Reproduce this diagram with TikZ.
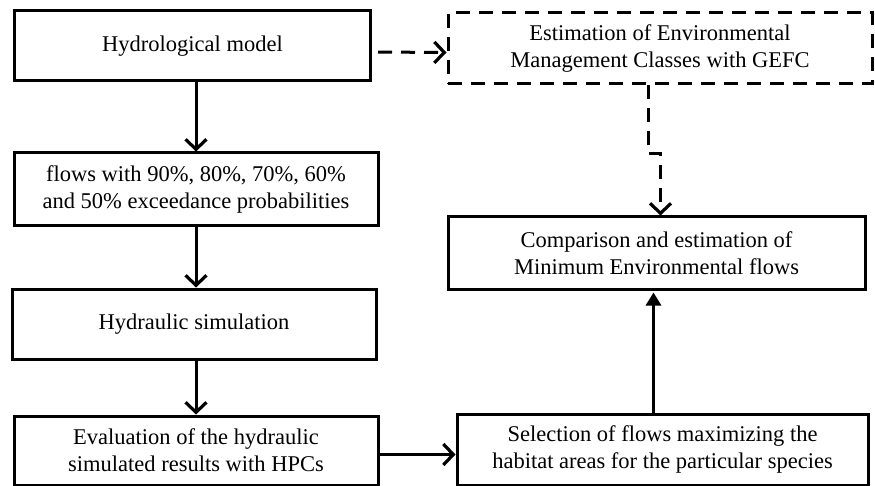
\documentclass[tikz,border=0pt]{standalone}
\usepackage{fontspec}
\setmainfont{Liberation Serif}
\usetikzlibrary{arrows.meta,calc}
\begin{document}
\begin{tikzpicture}[x=1pt,y=-1pt,
  box/.style={draw,line width=3pt,align=center,inner sep=0pt,font=\fontsize{22.5}{27}\selectfont},
  dbox/.style={box,dash pattern=on 14pt off 9pt},
  arr/.style={line width=3pt,-{Straight Barb[length=10pt,width=21pt,line width=3.2pt]}},
  tarr/.style={line width=3pt,-{Triangle[length=13pt,width=15pt]}},
  darr/.style={arr,dash pattern=on 14pt off 9pt}]
\useasboundingbox (0,0) rectangle (875,486);
\node[box,minimum width=356pt,minimum height=70pt] (H) at (192.5,46) {Hydrological model};
\node[box,minimum width=364pt,minimum height=73pt] (F) at (196,189.5) {flows with 90\%, 80\%, 70\%, 60\%\\and 50\% exceedance probabilities};
\node[box,minimum width=364pt,minimum height=70pt] (HS) at (194,324) {Hydraulic simulation};
\node[box,minimum width=364pt,minimum height=69pt] (EV) at (196,450.5) {Evaluation of the hydraulic\\simulated results with HPCs};
\node[dbox,minimum width=424pt,minimum height=71pt] (E) at (660,48.5) {Estimation of Environmental\\Management Classes with GEFC};
\node[box,minimum width=417pt,minimum height=72pt] (C) at (656.5,253) {Comparison and estimation of\\Minimum Environmental flows};
\node[box,minimum width=411pt,minimum height=71pt] (S) at (662.5,449.5) {Selection of flows maximizing the\\habitat areas for the particular species};
\draw[arr] (F.north |- H.south) -- (F.north);
\draw[arr] (F.south) -- (F.south |- HS.north);
\draw[arr] (EV.north |- HS.south) -- (EV.north);
\draw[arr] (EV.east) ++(0,4) -- ($(EV.east -| S.west)+(0,4)$);
\draw[tarr,shorten >=2pt] (S.north -| C.south) ++(-3,0) -- ($(C.south)+(-3,0)$);
\draw[darr,shorten <=6pt] (H.east) ++(0,6) -- ($(E.west)+(0,4)$);
\draw[darr] ($(E.south)+(-12,0)$) -- ++(0,68) -| ($(C.north)+(4,0)$);
\end{tikzpicture}
\end{document}
